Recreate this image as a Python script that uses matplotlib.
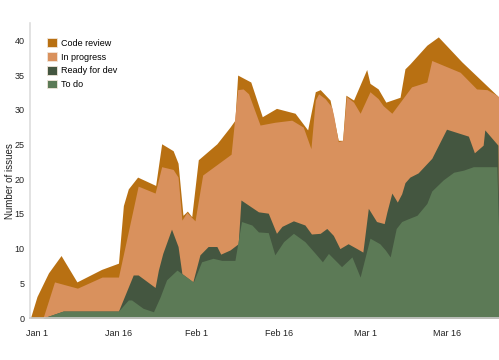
import numpy as np
import matplotlib
matplotlib.use("Agg")
import matplotlib.pyplot as plt
from matplotlib.patches import Patch

# Cumulative flow: top edge of each band, x in days since Jan 1
code_review_days = [-1.2, 0.0, 2.1, 4.4, 7.3, 11.8, 14.9, 15.8, 16.7, 18.4, 21.7, 22.8, 24.9, 25.8,
                    26.7, 27.5, 28.3, 29.5, 32.9, 35.3, 36.2, 36.7, 39.1, 41.2, 43.8, 47.2, 49.5,
                    50.9, 51.8, 53.6, 55.1, 55.9, 56.5, 57.9, 60.3, 60.9, 62.4, 63.8, 66.4, 67.3,
                    68.2, 71.3, 73.4, 77.7, 84.1, 84.5]
code_review_top = [0, 3.1, 6.5, 9.0, 5.2, 7.0, 7.9, 16.2, 18.6, 20.3, 19.1, 25.1, 24.1, 22.3,
                   14.8, 15.4, 14.6, 22.8, 25.1, 27.5, 28.5, 35.0, 34.0, 29.0, 30.2, 29.5, 27.1,
                   32.6, 32.9, 31.4, 25.6, 25.6, 32.1, 31.4, 35.8, 33.8, 33.0, 31.1, 31.8, 35.9,
                   36.6, 39.3, 40.5, 36.9, 32.1, 31.8]

in_progress_days = [1.1, 3.2, 7.4, 11.9, 14.9, 18.5, 21.6, 22.8, 24.9, 25.8, 26.5, 27.4, 28.9,
                    30.3, 35.5, 36.7, 37.7, 38.7, 40.8, 43.5, 46.6, 48.7, 50.1, 50.9, 51.5, 52.7,
                    53.9, 54.3, 55.1, 55.9, 56.6, 57.9, 59.1, 60.9, 62.4, 63.3, 64.9, 66.7, 68.5,
                    71.3, 72.2, 77.4, 80.4, 82.3, 84.1, 84.5]
in_progress_top = [0, 5.2, 4.3, 5.9, 5.9, 19.0, 18.0, 21.8, 21.4, 20.3, 14.1, 15.2, 14.0,
                   20.6, 23.6, 32.9, 33.0, 32.3, 27.8, 28.2, 28.5, 27.5, 24.4, 31.4, 32.3, 31.6,
                   30.4, 29.0, 25.4, 25.6, 31.9, 31.1, 29.5, 32.6, 31.6, 30.6, 29.5, 31.4, 33.3,
                   34.0, 37.1, 35.4, 33.0, 32.9, 32.1, 31.8]

ready_days = [1.1, 4.8, 14.9, 17.6, 18.5, 21.6, 22.2, 23.0, 24.6, 25.8, 26.5, 28.5, 29.8, 31.3,
              32.9, 33.6, 35.3, 36.8, 37.3, 40.5, 42.3, 43.8, 44.8, 46.9, 49.0, 50.2, 51.8,
              53.0, 54.2, 55.4, 56.9, 58.5, 59.6, 60.6, 62.1, 63.5, 64.0, 64.9, 65.9, 66.7,
              67.3, 68.2, 69.7, 72.2, 74.9, 78.9, 80.0, 81.6, 81.9, 84.3, 84.5]
ready_top = [0, 1.0, 1.0, 6.2, 6.2, 4.4, 6.9, 9.3, 12.8, 10.3, 6.4, 5.2, 9.1, 10.3,
             10.3, 9.2, 9.8, 10.7, 17.0, 15.3, 15.1, 12.2, 13.2, 14.0, 13.4, 12.1, 12.2,
             12.9, 11.9, 10.0, 10.7, 10.0, 9.5, 15.8, 13.9, 13.6, 15.3, 18.0, 16.7, 17.9,
             19.5, 20.3, 20.9, 23.0, 27.2, 26.2, 23.8, 24.9, 27.1, 24.9, 10.8]

todo_days = [1.1, 4.8, 14.9, 16.7, 17.3, 19.4, 21.3, 22.5, 23.7, 25.6, 28.6, 30.1, 32.2, 33.8,
             36.2, 37.4, 39.3, 40.5, 42.3, 43.5, 45.1, 46.9, 49.0, 50.9, 52.2, 53.3, 55.7,
             57.6, 59.1, 60.9, 62.7, 63.7, 64.6, 65.7, 66.7, 67.9, 69.5, 71.3, 72.2, 74.3,
             76.2, 78.0, 79.8, 84.1, 84.5]
todo_top = [0, 1.0, 1.0, 2.6, 2.6, 1.4, 0.9, 3.0, 5.5, 6.9, 5.2, 8.1, 8.6, 8.3,
            8.3, 13.9, 13.4, 12.4, 12.3, 9.1, 11.0, 12.2, 11.0, 9.3, 8.1, 9.3, 7.4,
            8.8, 5.9, 11.5, 10.7, 9.8, 8.8, 12.9, 13.9, 14.3, 14.8, 16.5, 18.3, 19.9,
            21.0, 21.3, 21.8, 21.8, 10.8]

tick_days = [0, 15, 29.2, 44.2, 60.1, 75]
tick_labels = ["Jan 1", "Jan 16", "Feb 1", "Feb 16", "Mar 1", "Mar 16"]

bands = [
    ("Code review", code_review_days, code_review_top, "#b87012"),
    ("In progress", in_progress_days, in_progress_top, "#d9915d"),
    ("Ready for dev", ready_days, ready_top, "#445640"),
    ("To do", todo_days, todo_top, "#5c7a56"),
]

plt.rcParams["font.family"] = ["Liberation Sans", "DejaVu Sans"]

fig = plt.figure(figsize=(4.99, 3.6), dpi=100)
ax = fig.add_axes([30 / 499, 42 / 360, 469 / 499, 295 / 360])

# paint from the top band down, each one from zero
handles = []
for label, days, top, color in bands:
    ax.fill_between(days, 0, top, color=color, linewidth=0)
    handles.append(Patch(facecolor=color, edgecolor="#f2e6da", linewidth=0.6, label=label))

ax.set_xlim(-1.28, 84.5)
ax.set_ylim(0, 42.5)
ax.set_yticks(np.arange(0, 41, 5))
ax.set_xticks(tick_days)
ax.set_xticklabels(tick_labels)
ax.tick_params(axis="both", length=0, labelsize=6.5, colors="#222222")
ax.tick_params(axis="x", pad=8)
ax.tick_params(axis="y", pad=4)
ax.set_ylabel("Number of issues", fontsize=7, color="#222222")
ax.yaxis.set_label_coords(-0.0316, 0.464)

for side in ["top", "right"]:
    ax.spines[side].set_visible(False)
ax.spines["left"].set_color("#dddddd")
ax.spines["bottom"].set_color("#cccccc")
ax.spines["left"].set_linewidth(1.2)
ax.spines["bottom"].set_linewidth(1.2)

ax.legend(handles=handles, loc="upper left", bbox_to_anchor=(0.0285, 0.96), frameon=False,
          fontsize=6.5, handlelength=1.1, handleheight=1.1, handletextpad=0.5,
          labelspacing=0.48, borderaxespad=0)

fig.savefig("out.png", dpi=100)
